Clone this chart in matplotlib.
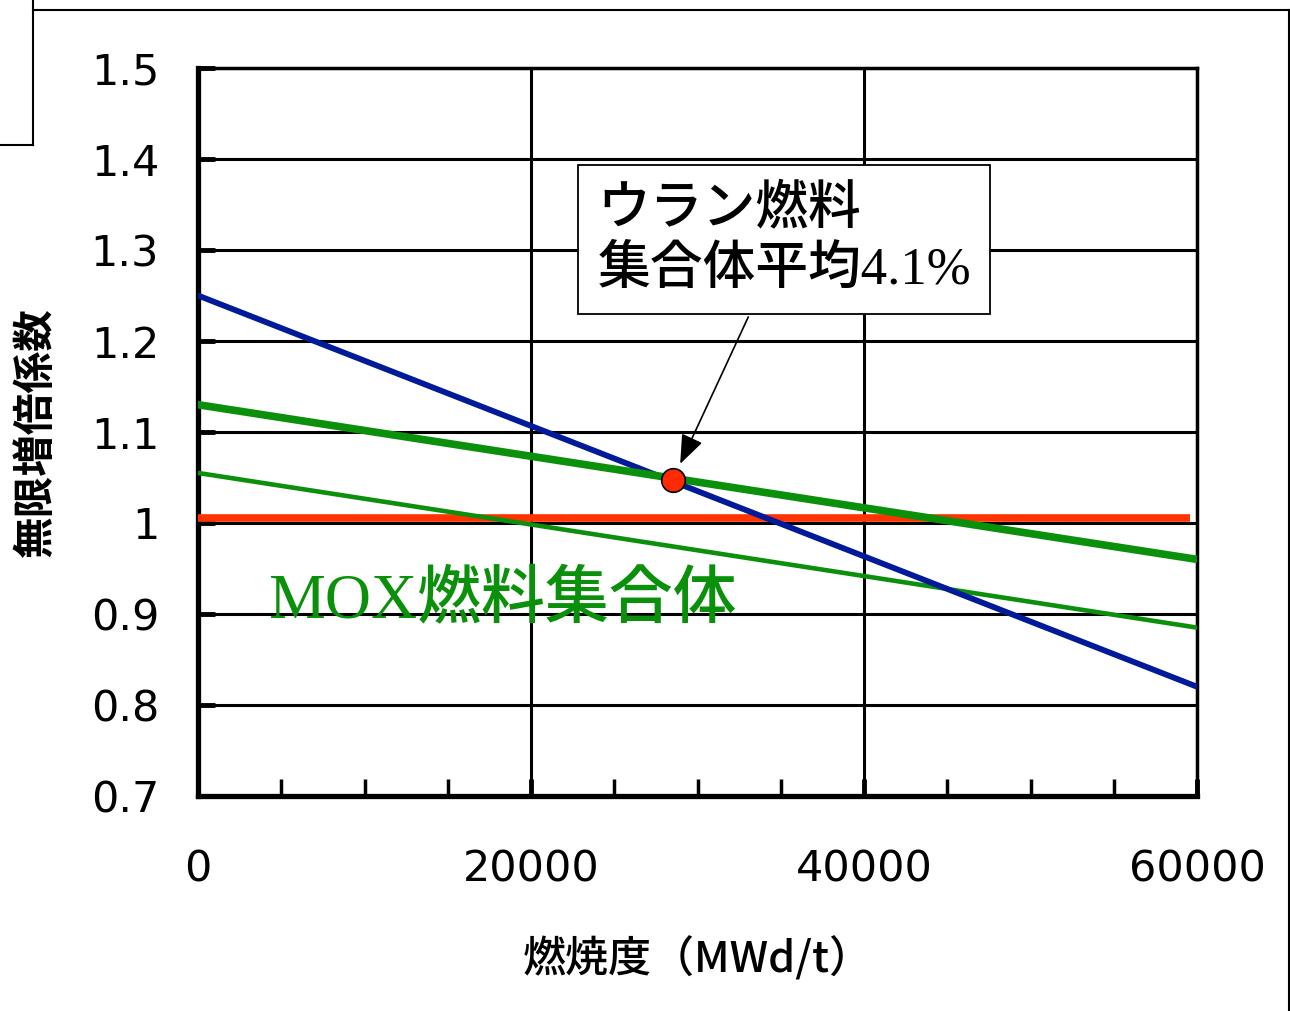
import matplotlib
matplotlib.use('Agg')  # noqa

import matplotlib.pyplot as plt  # noqa
from matplotlib.lines import Line2D  # noqa

plt.rcParams['font.family'] = ['Noto Sans CJK JP', 'DejaVu Sans']

# burnup (MWd/t) end points of each straight line
burnup = [0, 60000]
uranium_k = [1.25, 0.82]          # blue: uranium fuel assembly
mox_k_high = [1.13, 0.96]         # thick green: MOX assembly
mox_k_low = [1.055, 0.885]        # thin green: MOX assembly
critical_x = [0, 59600]
critical_k = [1.005, 1.005]       # red: k = 1

# uranium-fuel average point (4.1%)
point_x = [28500]
point_k = [1.047]

x_ticks = [0, 20000, 40000, 60000]
y_ticks = [0.7, 0.8, 0.9, 1.0, 1.1, 1.2, 1.3, 1.4, 1.5]
y_ticklabels = ['0.7', '0.8', '0.9', '1', '1.1', '1.2', '1.3', '1.4', '1.5']


def main():
    fig = plt.figure(figsize=(12.9, 10.11), dpi=100)
    ax = fig.add_axes([0.1535, 0.2127, 0.7745, 0.72])

    ax.plot(critical_x, critical_k, color='#ff3300', lw=5.5,
            solid_capstyle='butt', zorder=3)
    ax.plot(burnup, mox_k_low, color='#0a900a', lw=3.3, zorder=4)
    ax.plot(burnup, mox_k_high, color='#0a900a', lw=5.5, zorder=5)
    ax.plot(burnup, uranium_k, color='#001a99', lw=4.2, zorder=4)
    ax.plot(point_x, point_k, 'o', ms=17, mfc='#ff2a00', mec='black',
            mew=1.2, zorder=6)

    ax.set_xlim(0, 60000)
    ax.set_ylim(0.7, 1.5)
    ax.set_xticks(x_ticks)
    ax.set_xticks(range(0, 60001, 5000), minor=True)
    ax.set_yticks(y_ticks)
    ax.set_yticklabels(y_ticklabels)
    ax.grid(True, which='major', color='black', lw=2.2, zorder=1)
    ax.set_axisbelow(True)

    ax.tick_params(axis='both', which='major', direction='in', length=12,
                   width=3.5, labelsize=31, color='black')
    ax.tick_params(axis='x', which='major', pad=38)
    ax.tick_params(axis='y', which='major', pad=28)
    ax.tick_params(axis='x', which='minor', direction='in', length=12,
                   width=2.5)
    for lab in ax.get_xticklabels() + ax.get_yticklabels():
        lab.set_family('DejaVu Sans')
    for side in ['left', 'bottom']:
        ax.spines[side].set_linewidth(3.8)
    for side in ['right', 'top']:
        ax.spines[side].set_linewidth(2.5)

    ax.set_xlabel('燃焼度（MWd/t）', fontsize=31, labelpad=33,
                  fontweight='medium')
    ax.set_ylabel('無限増倍係数', fontsize=30, labelpad=24,
                  fontweight='bold')

    ax.text(4200, 0.914, 'MOX燃料集合体', color='#0a900a', fontsize=46,
            va='center', ha='left', fontweight='medium',
            family=['Liberation Serif', 'Noto Sans CJK JP'], zorder=7)

    ax.annotate('ウラン燃料\n集合体平均4.1%', xy=(point_x[0], point_k[0]),
                xytext=(35200, 1.3115), textcoords='data',
                fontsize=38, ha='center', va='center', multialignment='left',
                linespacing=1.3, fontweight='medium',
                family=['Liberation Serif', 'Noto Sans CJK JP'],
                bbox=dict(boxstyle='square,pad=0.36', fc='white',
                          ec='black', lw=1.3),
                arrowprops=dict(arrowstyle='-|>,head_length=0.9,head_width=0.35',
                                mutation_scale=20, color='black', lw=1.2,
                                shrinkA=2, shrinkB=13),
                zorder=8)

    # outer frame lines of the original slide
    fig.add_artist(Line2D([0.0256, 1.0], [0.990, 0.990], color='black', lw=1.5))
    fig.add_artist(Line2D([0.0256, 0.0256], [1.0, 0.8566], color='black', lw=1.5))
    fig.add_artist(Line2D([0.0, 0.0256], [0.8566, 0.8566], color='black', lw=1.5))
    fig.add_artist(Line2D([0.9992, 0.9992], [0.990, 0.0], color='black', lw=1.5))

    fig.savefig('out.png', dpi=100)


if __name__ == '__main__':
    main()
